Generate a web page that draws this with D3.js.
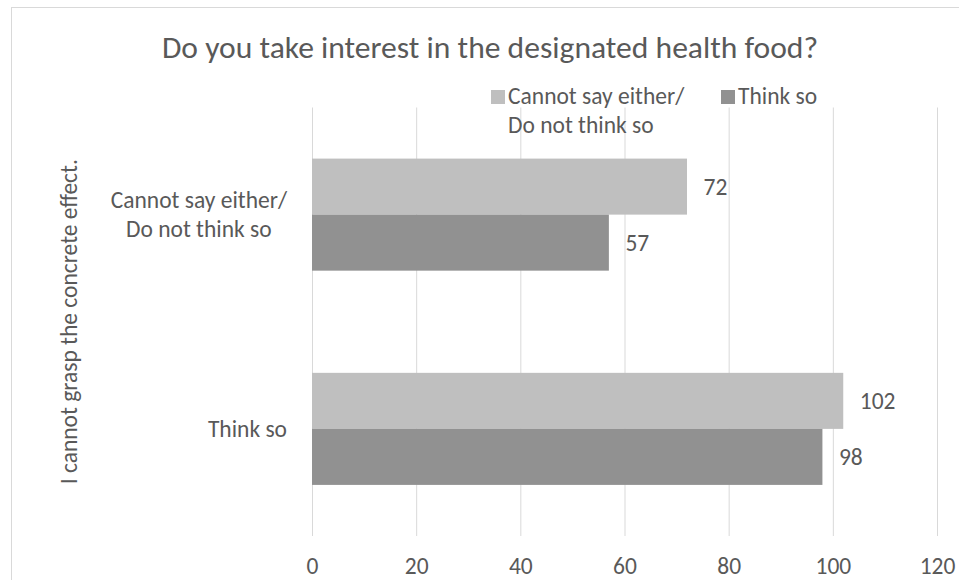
<!DOCTYPE html>
<html>
<head>
<meta charset="utf-8">
<script src="https://cdn.jsdelivr.net/npm/d3@7"></script>
<style>
  body { margin: 0; background: #fff; }
  text { font-family: Carlito, Calibri, "Open Sans", sans-serif; fill: #595959; }
</style>
</head>
<body>
<div id="chart"></div>
<script>
// data
var categories = ["Cannot say either/\nDo not think so", "Think so"];
var seriesNames = ["Cannot say either/\nDo not think so", "Think so"];
var cannotSayValues = [72, 102];
var thinkSoValues = [57, 98];
var xTicks = [0, 20, 40, 60, 80, 100, 120];
var titleText = "Do you take interest in the designated health food?";
var yTitleText = "I cannot grasp the concrete effect.";

var seriesValues = [cannotSayValues, thinkSoValues];
var colors = ["#bfbfbf", "#919191"];

var width = 959, height = 580;
var plotLeft = 312, plotRight = 937, plotTop = 107.5, plotBottom = 536;
var fontSmall = "23.5px";

var svg = d3.select("#chart").append("svg")
    .attr("width", width)
    .attr("height", height);

// chart area border (cropped at right/bottom in the reference)
svg.append("rect")
    .attr("x", 11.5).attr("y", 7.5)
    .attr("width", 1100).attr("height", 700)
    .attr("fill", "#fff")
    .attr("stroke", "#d9d9d9");

var x = d3.scaleLinear().domain([0, 120]).range([plotLeft, plotRight]);
var y0 = d3.scaleBand().domain(categories).range([plotTop, plotBottom])
    .paddingInner(0.477).paddingOuter(0.2385);
var y1 = d3.scaleBand().domain(seriesNames).range([0, y0.bandwidth()]);

// gridlines
svg.append("g").selectAll("line")
    .data(xTicks)
  .enter().append("line")
    .attr("x1", function(d) { return x(d) + 0.5; })
    .attr("x2", function(d) { return x(d) + 0.5; })
    .attr("y1", plotTop)
    .attr("y2", plotBottom)
    .attr("stroke", "#d9d9d9")
    .attr("stroke-width", 1);

// x axis labels
var xAxis = d3.axisBottom(x).tickValues(xTicks).tickSize(0).tickPadding(0);
var gx = svg.append("g")
    .attr("transform", "translate(0,573.5)")
    .call(xAxis);
gx.select(".domain").remove();
gx.selectAll("text")
    .attr("y", 0).attr("dy", 0)
    .style("font-family", null)
    .style("font-size", fontSmall)
    .style("fill", "#595959");
gx.attr("font-family", null).attr("font-size", null);

// bars
seriesNames.forEach(function(s, si) {
    var g = svg.append("g");
    g.selectAll("rect")
        .data(seriesValues[si])
      .enter().append("rect")
        .attr("x", x(0))
        .attr("y", function(d, i) { return y0(categories[i]) + y1(s); })
        .attr("width", function(d) { return x(d) - x(0); })
        .attr("height", y1.bandwidth())
        .attr("fill", colors[si]);
    g.selectAll("text")
        .data(seriesValues[si])
      .enter().append("text")
        .attr("x", function(d) { return x(d) + 16.5; })
        .attr("y", function(d, i) { return y0(categories[i]) + y1(s) + y1.bandwidth() / 2; })
        .attr("dy", "0.35em")
        .style("font-size", fontSmall)
        .text(function(d) { return d; });
});

// category labels
var lineH = 29;
categories.forEach(function(c) {
    var lines = c.split("\n");
    var cy = y0(c) + y0.bandwidth() / 2;
    var blockW = 0;
    var t = svg.append("text")
        .attr("text-anchor", "middle")
        .style("font-size", fontSmall);
    lines.forEach(function(l, li) {
        t.append("tspan")
            .attr("y", cy + (li - (lines.length - 1) / 2) * lineH)
            .attr("dy", "0.35em")
            .text(l);
    });
    // right-align the block to the axis, lines centred inside it
    t.selectAll("tspan").each(function() {
        blockW = Math.max(blockW, this.getComputedTextLength());
    });
    t.selectAll("tspan").attr("x", plotLeft - 25 - blockW / 2);
});

// title
svg.append("text")
    .attr("x", 490)
    .attr("y", 58)
    .attr("text-anchor", "middle")
    .style("font-size", "31.6px")
    .style("font-weight", 300)
    .text(titleText);

// y axis title
svg.append("text")
    .attr("transform", "translate(77," + ((plotTop + plotBottom) / 2) + ") rotate(-90)")
    .attr("text-anchor", "middle")
    .style("font-size", fontSmall)
    .text(yTitleText);

// legend
var legendX = [491, 721];
seriesNames.forEach(function(s, si) {
    var lg = svg.append("g");
    lg.append("rect")
        .attr("x", legendX[si]).attr("y", 90)
        .attr("width", 14).attr("height", 14)
        .attr("fill", colors[si]);
    var t = lg.append("text")
        .style("font-size", fontSmall);
    s.split("\n").forEach(function(l, li) {
        t.append("tspan")
            .attr("x", legendX[si] + 17)
            .attr("y", 104 + li * 29)
            .text(l);
    });
});
</script>
</body>
</html>
